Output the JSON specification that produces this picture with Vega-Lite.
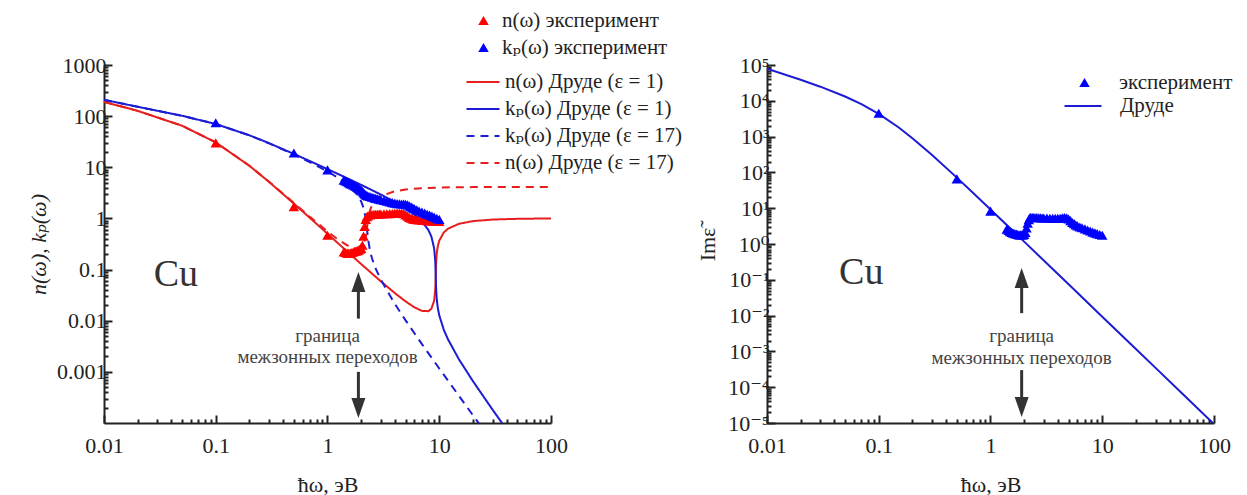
{
  "$schema": "https://vega.github.io/schema/vega-lite/v6.json",
  "background": "white",
  "padding": {"left": 27, "top": 10, "right": 5, "bottom": 0},
  "bounds": "flush",
  "spacing": 216,
  "config": {
    "view": {"stroke": null},
    "font": "'Liberation Serif', 'Times New Roman', 'DejaVu Serif', serif",
    "text": {"font": "'Liberation Serif', 'Times New Roman', 'DejaVu Serif', serif"},
    "axis": {"grid": false, "domainColor": "#222", "domainWidth": 2, "tickColor": "#222", "tickWidth": 2, "labelFont": "'Liberation Serif', 'Times New Roman', 'DejaVu Serif', serif", "labelFontSize": 22, "labelColor": "#222", "titleFont": "'Liberation Serif', 'Times New Roman', 'DejaVu Serif', serif", "titleFontSize": 22, "titleFontWeight": "normal", "titleColor": "#222", "labelFlush": false, "labelOverlap": false, "labelBound": false},
    "legend": {"labelFont": "'Liberation Serif', 'Times New Roman', 'DejaVu Serif', serif", "labelFontSize": 21, "labelColor": "#222", "padding": 0, "labelLimit": 400}
  },
  "datasets": {
    "curves": [
      {"c": "n1", "E": 0.01, "v": 190.3}, {"c": "n1", "E": 0.02, "v": 126.9}, {"c": "n1", "E": 0.05, "v": 64.9}, {"c": "n1", "E": 0.1, "v": 30.7}, {"c": "n1", "E": 0.2, "v": 10.69}, {"c": "n1", "E": 0.3, "v": 5.17}, {"c": "n1", "E": 0.5, "v": 1.95}, {"c": "n1", "E": 0.7, "v": 1.013}, {"c": "n1", "E": 1, "v": 0.5015}, {"c": "n1", "E": 1.2, "v": 0.35}, {"c": "n1", "E": 1.5, "v": 0.2255}, {"c": "n1", "E": 2, "v": 0.1284}, {"c": "n1", "E": 3, "v": 0.0589}, {"c": "n1", "E": 4, "v": 0.03475}, {"c": "n1", "E": 5, "v": 0.02382}, {"c": "n1", "E": 6, "v": 0.01826}, {"c": "n1", "E": 7, "v": 0.01557}, {"c": "n1", "E": 8, "v": 0.01538}, {"c": "n1", "E": 8.5, "v": 0.01712}, {"c": "n1", "E": 9, "v": 0.0245}, {"c": "n1", "E": 9.2, "v": 0.0392}, {"c": "n1", "E": 9.25, "v": 0.05095}, {"c": "n1", "E": 9.3, "v": 0.0762}, {"c": "n1", "E": 9.35, "v": 0.1147}, {"c": "n1", "E": 9.4, "v": 0.1503}, {"c": "n1", "E": 9.5, "v": 0.2059}, {"c": "n1", "E": 9.7, "v": 0.2848}, {"c": "n1", "E": 10, "v": 0.3678}, {"c": "n1", "E": 11, "v": 0.5341}, {"c": "n1", "E": 12, "v": 0.6319}, {"c": "n1", "E": 15, "v": 0.7846}, {"c": "n1", "E": 20, "v": 0.8853}, {"c": "n1", "E": 30, "v": 0.9507}, {"c": "n1", "E": 50, "v": 0.9826}, {"c": "n1", "E": 70, "v": 0.9911}, {"c": "n1", "E": 100, "v": 0.9957},
      {"c": "k1", "E": 0.01, "v": 208.7}, {"c": "k1", "E": 0.02, "v": 152.6}, {"c": "k1", "E": 0.05, "v": 101.6}, {"c": "k1", "E": 0.1, "v": 70.2}, {"c": "k1", "E": 0.2, "v": 42.28}, {"c": "k1", "E": 0.3, "v": 29.61}, {"c": "k1", "E": 0.5, "v": 18.26}, {"c": "k1", "E": 0.7, "v": 13.13}, {"c": "k1", "E": 1, "v": 9.206}, {"c": "k1", "E": 1.2, "v": 7.662}, {"c": "k1", "E": 1.5, "v": 6.107}, {"c": "k1", "E": 2, "v": 4.536}, {"c": "k1", "E": 3, "v": 2.933}, {"c": "k1", "E": 4, "v": 2.0985}, {"c": "k1", "E": 5, "v": 1.5681}, {"c": "k1", "E": 6, "v": 1.1842}, {"c": "k1", "E": 7, "v": 0.8747}, {"c": "k1", "E": 8, "v": 0.5929}, {"c": "k1", "E": 8.5, "v": 0.4442}, {"c": "k1", "E": 9, "v": 0.2614}, {"c": "k1", "E": 9.2, "v": 0.1529}, {"c": "k1", "E": 9.25, "v": 0.1158}, {"c": "k1", "E": 9.3, "v": 0.0762}, {"c": "k1", "E": 9.35, "v": 0.0498}, {"c": "k1", "E": 9.4, "v": 0.0374}, {"c": "k1", "E": 9.5, "v": 0.0265}, {"c": "k1", "E": 9.7, "v": 0.018}, {"c": "k1", "E": 10, "v": 0.0127}, {"c": "k1", "E": 11, "v": 0.00657}, {"c": "k1", "E": 12, "v": 0.00428}, {"c": "k1", "E": 15, "v": 0.00176}, {"c": "k1", "E": 20, "v": 0.00066}, {"c": "k1", "E": 30, "v": 0.000182}, {"c": "k1", "E": 40, "v": 0.000075},
      {"c": "k17", "E": 0.01, "v": 208.7}, {"c": "k17", "E": 0.02, "v": 152.5}, {"c": "k17", "E": 0.05, "v": 101.55}, {"c": "k17", "E": 0.1, "v": 70.15}, {"c": "k17", "E": 0.2, "v": 42.1}, {"c": "k17", "E": 0.3, "v": 29.35}, {"c": "k17", "E": 0.5, "v": 17.82}, {"c": "k17", "E": 0.7, "v": 12.51}, {"c": "k17", "E": 1, "v": 8.295}, {"c": "k17", "E": 1.2, "v": 6.539}, {"c": "k17", "E": 1.5, "v": 4.619}, {"c": "k17", "E": 1.8, "v": 3.109}, {"c": "k17", "E": 2, "v": 2.153}, {"c": "k17", "E": 2.1, "v": 1.63}, {"c": "k17", "E": 2.2, "v": 1.0085}, {"c": "k17", "E": 2.25, "v": 0.6583}, {"c": "k17", "E": 2.3, "v": 0.414}, {"c": "k17", "E": 2.4, "v": 0.2345}, {"c": "k17", "E": 2.5, "v": 0.1665}, {"c": "k17", "E": 2.7, "v": 0.1043}, {"c": "k17", "E": 3, "v": 0.06349}, {"c": "k17", "E": 4, "v": 0.02142}, {"c": "k17", "E": 5, "v": 0.01015}, {"c": "k17", "E": 7, "v": 0.003488}, {"c": "k17", "E": 10, "v": 0.001163}, {"c": "k17", "E": 15, "v": 0.0003395}, {"c": "k17", "E": 20, "v": 0.0001425}, {"c": "k17", "E": 25, "v": 0.0000728},
      {"c": "n17", "E": 0.01, "v": 190.3}, {"c": "n17", "E": 0.02, "v": 126.95}, {"c": "n17", "E": 0.05, "v": 64.97}, {"c": "n17", "E": 0.1, "v": 30.74}, {"c": "n17", "E": 0.2, "v": 10.74}, {"c": "n17", "E": 0.3, "v": 5.22}, {"c": "n17", "E": 0.5, "v": 2.004}, {"c": "n17", "E": 0.7, "v": 1.063}, {"c": "n17", "E": 1, "v": 0.5566}, {"c": "n17", "E": 1.2, "v": 0.4101}, {"c": "n17", "E": 1.5, "v": 0.2981}, {"c": "n17", "E": 1.8, "v": 0.2567}, {"c": "n17", "E": 2, "v": 0.2704}, {"c": "n17", "E": 2.1, "v": 0.3085}, {"c": "n17", "E": 2.2, "v": 0.4339}, {"c": "n17", "E": 2.25, "v": 0.6215}, {"c": "n17", "E": 2.3, "v": 0.9252}, {"c": "n17", "E": 2.4, "v": 1.4381}, {"c": "n17", "E": 2.5, "v": 1.7926}, {"c": "n17", "E": 2.7, "v": 2.2725}, {"c": "n17", "E": 3, "v": 2.7213}, {"c": "n17", "E": 4, "v": 3.4056}, {"c": "n17", "E": 5, "v": 3.6799}, {"c": "n17", "E": 7, "v": 3.9032}, {"c": "n17", "E": 10, "v": 4.0169}, {"c": "n17", "E": 15, "v": 4.0762}, {"c": "n17", "E": 20, "v": 4.0968}, {"c": "n17", "E": 30, "v": 4.1114}, {"c": "n17", "E": 50, "v": 4.1189}, {"c": "n17", "E": 100, "v": 4.1221}
    ],
    "exp": [
      {"E": 0.1, "n": 30, "k": 74}, {"E": 0.5, "n": 1.7, "k": 19}, {"E": 1.0, "n": 0.47, "k": 8.9},
      {"E": 1.4, "n": 0.22, "k": 5.6}, {"E": 1.45, "n": 0.215, "k": 5.4}, {"E": 1.5, "n": 0.21, "k": 5.2}, {"E": 1.55, "n": 0.21, "k": 5.0}, {"E": 1.6, "n": 0.21, "k": 4.8}, {"E": 1.65, "n": 0.215, "k": 4.65}, {"E": 1.7, "n": 0.22, "k": 4.5}, {"E": 1.75, "n": 0.225, "k": 4.35}, {"E": 1.8, "n": 0.23, "k": 4.2}, {"E": 1.85, "n": 0.235, "k": 4.05}, {"E": 1.9, "n": 0.24, "k": 3.9}, {"E": 1.95, "n": 0.25, "k": 3.75}, {"E": 2.0, "n": 0.26, "k": 3.6}, {"E": 2.05, "n": 0.3, "k": 3.4}, {"E": 2.1, "n": 0.45, "k": 3.2}, {"E": 2.15, "n": 0.7, "k": 3.0}, {"E": 2.2, "n": 0.95, "k": 2.9}, {"E": 2.25, "n": 1.08, "k": 2.8}, {"E": 2.3, "n": 1.13, "k": 2.75}, {"E": 2.4, "n": 1.17, "k": 2.68}, {"E": 2.5, "n": 1.19, "k": 2.6}, {"E": 2.6, "n": 1.2, "k": 2.53}, {"E": 2.7, "n": 1.21, "k": 2.47}, {"E": 2.8, "n": 1.21, "k": 2.42}, {"E": 2.9, "n": 1.22, "k": 2.37}, {"E": 3.0, "n": 1.22, "k": 2.33}, {"E": 3.2, "n": 1.23, "k": 2.25}, {"E": 3.4, "n": 1.23, "k": 2.17}, {"E": 3.6, "n": 1.24, "k": 2.1}, {"E": 3.8, "n": 1.25, "k": 2.04}, {"E": 4.0, "n": 1.26, "k": 1.99}, {"E": 4.2, "n": 1.27, "k": 1.95}, {"E": 4.4, "n": 1.28, "k": 1.93}, {"E": 4.6, "n": 1.27, "k": 1.92}, {"E": 4.8, "n": 1.23, "k": 1.92}, {"E": 5.0, "n": 1.17, "k": 1.9}, {"E": 5.2, "n": 1.1, "k": 1.84}, {"E": 5.4, "n": 1.05, "k": 1.76}, {"E": 5.6, "n": 1.01, "k": 1.68}, {"E": 5.8, "n": 0.98, "k": 1.61}, {"E": 6.0, "n": 0.96, "k": 1.55}, {"E": 6.3, "n": 0.94, "k": 1.47}, {"E": 6.6, "n": 0.93, "k": 1.4}, {"E": 7.0, "n": 0.92, "k": 1.33}, {"E": 7.4, "n": 0.91, "k": 1.27}, {"E": 7.8, "n": 0.9, "k": 1.21}, {"E": 8.2, "n": 0.89, "k": 1.16}, {"E": 8.6, "n": 0.89, "k": 1.11}, {"E": 9.0, "n": 0.88, "k": 1.06}, {"E": 9.5, "n": 0.88, "k": 1.01}, {"E": 10.0, "n": 0.87, "k": 0.96}
    ],
    "expR": [
      {"E": 0.1, "v": 4500}, {"E": 0.5, "v": 66}, {"E": 1.0, "v": 8.3},
      {"E": 1.4, "v": 2.6}, {"E": 1.45, "v": 2.4}, {"E": 1.5, "v": 2.2}, {"E": 1.55, "v": 2.1}, {"E": 1.6, "v": 2.0}, {"E": 1.65, "v": 1.95}, {"E": 1.7, "v": 1.9}, {"E": 1.75, "v": 1.85}, {"E": 1.8, "v": 1.8}, {"E": 1.85, "v": 1.8}, {"E": 1.9, "v": 1.78}, {"E": 1.95, "v": 1.8}, {"E": 2.0, "v": 1.85}, {"E": 2.05, "v": 2.1}, {"E": 2.1, "v": 2.8}, {"E": 2.15, "v": 3.8}, {"E": 2.2, "v": 4.8}, {"E": 2.25, "v": 5.4}, {"E": 2.3, "v": 5.6}, {"E": 2.4, "v": 5.6}, {"E": 2.5, "v": 5.5}, {"E": 2.6, "v": 5.45}, {"E": 2.7, "v": 5.4}, {"E": 2.8, "v": 5.4}, {"E": 2.9, "v": 5.35}, {"E": 3.0, "v": 5.3}, {"E": 3.2, "v": 5.3}, {"E": 3.4, "v": 5.25}, {"E": 3.6, "v": 5.2}, {"E": 3.8, "v": 5.2}, {"E": 4.0, "v": 5.2}, {"E": 4.2, "v": 5.25}, {"E": 4.4, "v": 5.4}, {"E": 4.6, "v": 5.5}, {"E": 4.8, "v": 5.4}, {"E": 5.0, "v": 5.0}, {"E": 5.2, "v": 4.5}, {"E": 5.4, "v": 4.0}, {"E": 5.6, "v": 3.7}, {"E": 5.8, "v": 3.4}, {"E": 6.0, "v": 3.2}, {"E": 6.3, "v": 3.0}, {"E": 6.6, "v": 2.85}, {"E": 7.0, "v": 2.65}, {"E": 7.4, "v": 2.45}, {"E": 7.8, "v": 2.3}, {"E": 8.2, "v": 2.15}, {"E": 8.6, "v": 2.05}, {"E": 9.0, "v": 1.95}, {"E": 9.5, "v": 1.85}, {"E": 10.0, "v": 1.75}
    ],
    "drR": [
      {"E": 0.01, "v": 79439}, {"E": 0.02, "v": 38731}, {"E": 0.03, "v": 24793}, {"E": 0.05, "v": 13195}, {"E": 0.07, "v": 8059}, {"E": 0.1, "v": 4313}, {"E": 0.15, "v": 1823}, {"E": 0.2, "v": 904.2}, {"E": 0.3, "v": 306.3}, {"E": 0.5, "v": 71.41}, {"E": 0.7, "v": 26.6}, {"E": 1, "v": 9.234}, {"E": 2, "v": 1.1644}, {"E": 3, "v": 0.34555}, {"E": 5, "v": 0.0747}, {"E": 10, "v": 0.009341}, {"E": 20, "v": 0.0011677}, {"E": 30, "v": 0.000346}, {"E": 50, "v": 0.0000747}, {"E": 100, "v": 0.0000093}
    ],
    "arrL": [{"E": 1.89, "y1": 0.011, "y2": 0.0571}, {"E": 1.89, "y1": 0.001, "y2": 0.000196}],
    "headL": [{"E": 1.89, "y": 0.0571, "d": "up"}, {"E": 1.89, "y": 0.000196, "d": "down"}],
    "txtL": [{"E": 1.0, "y": 0.005, "t": "граница"}, {"E": 1.0, "y": 0.00195, "t": "межзонных переходов"}],
    "cuL": [{"E": 0.044, "y": 0.078, "t": "Cu"}],
    "arrR": [{"E": 1.9, "y1": 0.0117, "y2": 0.112}, {"E": 1.9, "y1": 0.0003, "y2": 0.000028}],
    "headR": [{"E": 1.9, "y": 0.112, "d": "up"}, {"E": 1.9, "y": 0.000028, "d": "down"}],
    "txtR": [{"E": 1.9, "y": 0.0027, "t": "граница"}, {"E": 1.9, "y": 0.00066, "t": "межзонных переходов"}],
    "cuR": [{"E": 0.0697, "y": 0.155, "t": "Cu"}]
  },
  "resolve": {"scale": {"x": "independent", "y": "independent", "fill": "independent", "stroke": "independent", "strokeDash": "independent", "shape": "independent"}},
  "hconcat": [
    {
      "width": 447,
      "height": 358,
      "resolve": {"axis": {"x": "independent", "y": "independent"}},
      "layer": [
        {
          "data": {"name": "curves"},
          "mark": {"type": "line", "strokeWidth": 2, "clip": true},
          "encoding": {
            "x": {"field": "E", "type": "quantitative", "scale": {"type": "log", "domain": [0.01, 100]},
                  "axis": {"orient": "bottom", "values": [0.01, 0.1, 1, 10, 100], "format": "~g", "title": "ħω, эВ", "tickSize": -8, "labelPadding": 20, "titlePadding": 18}},
            "y": {"field": "v", "type": "quantitative", "scale": {"type": "log", "domain": [0.0001, 1000]},
                  "axis": {"orient": "left", "values": [0.001, 0.01, 0.1, 1, 10, 100, 1000], "format": "~g", "title": "n(ω), kₚ(ω)", "titleFontStyle": "italic", "tickSize": -8, "labelPadding": 6, "titlePadding": 6}},
            "stroke": {"field": "c", "type": "nominal",
                       "scale": {"domain": ["n1", "k1", "k17", "n17"], "range": ["#e61e1e", "#1c1cd4", "#1c1cd4", "#e61e1e"]},
                       "legend": {"title": null, "orient": "none", "legendX": 368, "legendY": 6, "symbolType": "M-1.65,0H1.65", "symbolSize": 400, "symbolStrokeWidth": 2, "labelOffset": 11, "rowPadding": 6,
                                  "labelExpr": "datum.label == 'n1' ? 'n(ω) Друде (ε = 1)' : datum.label == 'k1' ? 'kₚ(ω) Друде (ε = 1)' : datum.label == 'k17' ? 'kₚ(ω) Друде (ε = 17)' : 'n(ω) Друде (ε = 17)'"}},
            "strokeDash": {"field": "c", "type": "nominal",
                       "scale": {"domain": ["n1", "k1", "k17", "n17"], "range": [[1, 0], [1, 0], [8, 6], [8, 6]]},
                       "legend": {"title": null, "orient": "none", "legendX": 368, "legendY": 6, "symbolType": "M-1.65,0H1.65", "symbolSize": 400, "symbolStrokeWidth": 2, "labelOffset": 11, "rowPadding": 6,
                                  "labelExpr": "datum.label == 'n1' ? 'n(ω) Друде (ε = 1)' : datum.label == 'k1' ? 'kₚ(ω) Друде (ε = 1)' : datum.label == 'k17' ? 'kₚ(ω) Друде (ε = 17)' : 'n(ω) Друде (ε = 17)'"}}
          }
        },
        {
          "data": {"name": "exp"},
          "transform": [{"fold": ["n", "k"], "as": ["q", "val"]}],
          "mark": {"type": "point", "shape": "triangle-up", "filled": true, "size": 110, "opacity": 1},
          "encoding": {
            "x": {"field": "E", "type": "quantitative",
                  "axis": {"orient": "bottom", "values": [0.02,0.03,0.04,0.05,0.06,0.07,0.08,0.09,0.2,0.3,0.4,0.5,0.6,0.7,0.8,0.9,2,3,4,5,6,7,8,9,20,30,40,50,60,70,80,90], "labels": false, "domain": false, "title": null, "tickSize": -4}},
            "y": {"field": "val", "type": "quantitative",
                  "axis": {"orient": "left", "values": [0.0002,0.0003,0.0004,0.0005,0.0006,0.0007,0.0008,0.0009,0.002,0.003,0.004,0.005,0.006,0.007,0.008,0.009,0.02,0.03,0.04,0.05,0.06,0.07,0.08,0.09,0.2,0.3,0.4,0.5,0.6,0.7,0.8,0.9,2,3,4,5,6,7,8,9,20,30,40,50,60,70,80,90,200,300,400,500,600,700,800,900], "labels": false, "domain": false, "title": null, "tickSize": -4}},
            "fill": {"field": "q", "type": "nominal", "scale": {"domain": ["n", "k"], "range": ["#ff0000", "#0000ff"]},
                     "legend": {"title": null, "orient": "none", "legendX": 369, "legendY": -55, "symbolType": "triangle-up", "symbolSize": 110, "labelOffset": 8, "rowPadding": 5,
                                "labelExpr": "datum.label == 'n' ? 'n(ω) эксперимент' : 'kₚ(ω) эксперимент'"}}
          }
        },
        {
          "data": {"name": "arrL"},
          "mark": {"type": "rule", "strokeWidth": 3, "color": "#333333"},
          "encoding": {
            "x": {"field": "E", "type": "quantitative", "axis": null},
            "y": {"field": "y1", "type": "quantitative", "axis": null},
            "y2": {"field": "y2"}
          }
        },
        {
          "data": {"name": "headL"},
          "mark": {"type": "point", "filled": true, "size": 400, "color": "#333333", "opacity": 1},
          "encoding": {
            "x": {"field": "E", "type": "quantitative", "axis": null},
            "y": {"field": "y", "type": "quantitative", "axis": null},
            "shape": {"field": "d", "type": "nominal", "scale": {"domain": ["up", "down"], "range": ["M-0.7,1L0,-1L0.7,1Z", "M-0.7,-1L0,1L0.7,-1Z"]}, "legend": null}
          }
        },
        {
          "data": {"name": "txtL"},
          "mark": {"type": "text", "fontSize": 19, "color": "#444444", "align": "center", "baseline": "middle"},
          "encoding": {
            "x": {"field": "E", "type": "quantitative", "axis": null},
            "y": {"field": "y", "type": "quantitative", "axis": null},
            "text": {"field": "t"}
          }
        },
        {
          "data": {"name": "cuL"},
          "mark": {"type": "text", "fontSize": 38, "color": "#333333", "align": "center", "baseline": "middle"},
          "encoding": {
            "x": {"field": "E", "type": "quantitative", "axis": null},
            "y": {"field": "y", "type": "quantitative", "axis": null},
            "text": {"field": "t"}
          }
        }
      ]
    },
    {
      "width": 447,
      "height": 358,
      "resolve": {"axis": {"x": "independent", "y": "independent"}},
      "layer": [
        {
          "data": {"name": "drR"},
          "mark": {"type": "line", "strokeWidth": 2, "clip": true},
          "encoding": {
            "x": {"field": "E", "type": "quantitative", "scale": {"type": "log", "domain": [0.01, 100]},
                  "axis": {"orient": "bottom", "values": [0.01, 0.1, 1, 10, 100], "format": "~g", "title": "ħω, эВ", "tickSize": -8, "labelPadding": 20, "titlePadding": 18}},
            "y": {"field": "v", "type": "quantitative", "scale": {"type": "log", "domain": [0.00001, 100000]},
                  "axis": {"orient": "left", "values": [0.00001, 0.0001, 0.001, 0.01, 0.1, 1, 10, 100, 1000, 10000, 100000], "title": "Imε̃", "tickSize": -8, "labelPadding": 6, "titlePadding": 8,
                           "labelExpr": "'10' + ['⁻⁵','⁻⁴','⁻³','⁻²','⁻¹','⁰','¹','²','³','⁴','⁵'][round(log(datum.value)/LN10)+5]"}},
            "stroke": {"datum": "Друде", "type": "nominal", "scale": {"range": ["#1c1cd4"]},
                       "legend": {"title": null, "orient": "none", "legendX": 305, "legendY": 30, "symbolType": "M-1.85,0H1.85", "symbolSize": 400, "symbolStrokeWidth": 2, "labelOffset": 26}}
          }
        },
        {
          "data": {"name": "expR"},
          "mark": {"type": "point", "shape": "triangle-up", "filled": true, "size": 110, "opacity": 1},
          "encoding": {
            "x": {"field": "E", "type": "quantitative",
                  "axis": {"orient": "bottom", "values": [0.02,0.03,0.04,0.05,0.06,0.07,0.08,0.09,0.2,0.3,0.4,0.5,0.6,0.7,0.8,0.9,2,3,4,5,6,7,8,9,20,30,40,50,60,70,80,90], "labels": false, "domain": false, "title": null, "tickSize": -4}},
            "y": {"field": "v", "type": "quantitative",
                  "axis": {"orient": "left", "values": [2e-5,3e-5,4e-5,5e-5,6e-5,7e-5,8e-5,9e-5,2e-4,3e-4,4e-4,5e-4,6e-4,7e-4,8e-4,9e-4,0.002,0.003,0.004,0.005,0.006,0.007,0.008,0.009,0.02,0.03,0.04,0.05,0.06,0.07,0.08,0.09,0.2,0.3,0.4,0.5,0.6,0.7,0.8,0.9,2,3,4,5,6,7,8,9,20,30,40,50,60,70,80,90,200,300,400,500,600,700,800,900,2000,3000,4000,5000,6000,7000,8000,9000,20000,30000,40000,50000,60000,70000,80000,90000], "labels": false, "domain": false, "title": null, "tickSize": -4}},
            "fill": {"datum": "эксперимент", "type": "nominal", "scale": {"range": ["#0000ff"]},
                     "legend": {"title": null, "orient": "none", "legendX": 307, "legendY": 7, "symbolType": "triangle-up", "symbolSize": 110, "labelOffset": 24}}
          }
        },
        {
          "data": {"name": "arrR"},
          "mark": {"type": "rule", "strokeWidth": 3, "color": "#333333"},
          "encoding": {
            "x": {"field": "E", "type": "quantitative", "axis": null},
            "y": {"field": "y1", "type": "quantitative", "axis": null},
            "y2": {"field": "y2"}
          }
        },
        {
          "data": {"name": "headR"},
          "mark": {"type": "point", "filled": true, "size": 400, "color": "#333333", "opacity": 1},
          "encoding": {
            "x": {"field": "E", "type": "quantitative", "axis": null},
            "y": {"field": "y", "type": "quantitative", "axis": null},
            "shape": {"field": "d", "type": "nominal", "scale": {"domain": ["up", "down"], "range": ["M-0.7,1L0,-1L0.7,1Z", "M-0.7,-1L0,1L0.7,-1Z"]}, "legend": null}
          }
        },
        {
          "data": {"name": "txtR"},
          "mark": {"type": "text", "fontSize": 19, "color": "#444444", "align": "center", "baseline": "middle"},
          "encoding": {
            "x": {"field": "E", "type": "quantitative", "axis": null},
            "y": {"field": "y", "type": "quantitative", "axis": null},
            "text": {"field": "t"}
          }
        },
        {
          "data": {"name": "cuR"},
          "mark": {"type": "text", "fontSize": 38, "color": "#333333", "align": "center", "baseline": "middle"},
          "encoding": {
            "x": {"field": "E", "type": "quantitative", "axis": null},
            "y": {"field": "y", "type": "quantitative", "axis": null},
            "text": {"field": "t"}
          }
        }
      ]
    }
  ]
}
